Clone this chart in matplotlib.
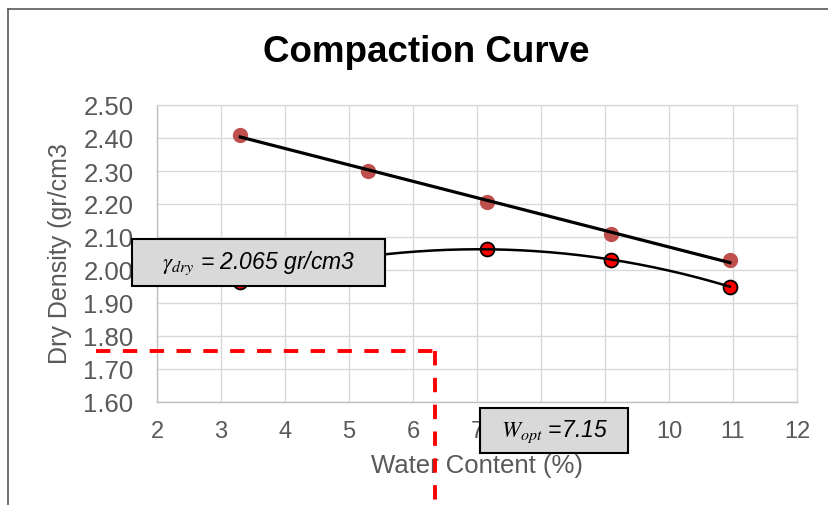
#!/usr/bin/env python3
"""Compaction curve: dry density vs water content with trendlines."""

import numpy as np
import matplotlib
matplotlib.use("Agg")
import matplotlib.pyplot as plt
from matplotlib.lines import Line2D
from matplotlib.patches import Rectangle

# Data
water_zav = [3.3, 5.3, 7.15, 9.1, 10.95]
density_zav = [2.41, 2.30, 2.205, 2.11, 2.03]
water_dry = [3.3, 5.3, 7.15, 9.1, 10.95]
density_dry = [1.965, 2.04, 2.065, 2.03, 1.95]

x_ticks = [2, 3, 4, 5, 6, 7, 8, 9, 10, 11, 12]
y_ticks = [1.60, 1.70, 1.80, 1.90, 2.00, 2.10, 2.20, 2.30, 2.40, 2.50]

# Hand-drawn red guide lines
GUIDE_Y = 1.755
GUIDE_X = 6.34
GUIDE_X_START = 1.05
GUIDE_Y_END = 1.28

GAMMA_TEXT = r"$\gamma_{dry}$ = 2.065 gr/cm3"
WOPT_TEXT = r"$W_{opt}$ =7.15"

# Style
W, H = 829, 506
FONT = "Liberation Sans"
TEXT_GRAY = "#595959"
GRID_COLOR = "#D9D9D9"
ZAV_COLOR = "#C0504D"
DRY_COLOR = "#FF0000"

plt.rcParams["font.family"] = [FONT, "DejaVu Sans"]
plt.rcParams["mathtext.fontset"] = "stix"

fig = plt.figure(figsize=(W / 100, H / 100), dpi=100)
ax = fig.add_axes([157 / W, 1 - 403 / H, 640 / W, 297 / H])

# Scatter points
ax.plot(water_zav, density_zav, "o", color=ZAV_COLOR, markersize=11,
        markeredgewidth=0, zorder=3)
ax.plot(water_dry, density_dry, "o", color=DRY_COLOR, markersize=10,
        markeredgecolor="black", markeredgewidth=1.3, zorder=4)

# Trendlines
xs = np.linspace(min(water_zav), max(water_zav), 50)
lin = np.polyfit(water_zav, density_zav, 1)
ax.plot(xs, np.polyval(lin, xs), color="black", lw=2.3, zorder=5)

xs2 = np.linspace(min(water_dry), max(water_dry), 200)
poly = np.polyfit(water_dry, density_dry, 3)
ax.plot(xs2, np.polyval(poly, xs2), color="black", lw=1.8, zorder=5)

# Red dashed guide lines (run outside the plot area)
ax.plot([GUIDE_X_START, GUIDE_X], [GUIDE_Y, GUIDE_Y], color="red", lw=2.8,
        dashes=(3.7, 3.2), clip_on=False, zorder=6)
ax.plot([GUIDE_X, GUIDE_X], [GUIDE_Y, GUIDE_Y_END], color="red", lw=2.8,
        dashes=(3.7, 3.2), clip_on=False, zorder=6)

ax.set_xlim(2, 12)
ax.set_ylim(1.6, 2.5)
ax.set_xticks(x_ticks)
ax.set_yticks(y_ticks)
ax.set_yticklabels([f"{v:.2f}" for v in y_ticks])
ax.tick_params(length=0, labelcolor=TEXT_GRAY)
ax.tick_params(axis="y", pad=17, labelsize=18.5)
ax.tick_params(axis="x", pad=13, labelsize=17)
ax.grid(True, color=GRID_COLOR, lw=1.0)
ax.set_axisbelow(True)
for side, spine in ax.spines.items():
    spine.set_color("#BFBFBF" if side in ("left", "bottom") else GRID_COLOR)
    spine.set_linewidth(1.0)

# Titles and axis labels
fig.text(426 / W, 1 - 52 / H, "Compaction Curve", ha="center", va="center",
         fontsize=26.5, fontweight="bold", color="black")
fig.text(477 / W, 1 - 466 / H, "Water Content (%)", ha="center", va="center",
         fontsize=18.5, color=TEXT_GRAY, zorder=-1)
fig.text(60 / W, 1 - 254 / H, "Dry Density (gr/cm3", ha="center", va="center",
         fontsize=18, color=TEXT_GRAY, rotation=90)

# Annotation boxes
def label_box(x0, y0, x1, y1, text, size):
    fig.add_artist(Rectangle((x0 / W, 1 - y1 / H), (x1 - x0) / W, (y1 - y0) / H,
                             transform=fig.transFigure, facecolor="#D9D9D9",
                             edgecolor="black", lw=1.5, zorder=10))
    fig.text((x0 + x1) / 2 / W, 1 - (y0 + y1) / 2 / H, text, ha="center",
             va="center", fontsize=size, style="italic", color="black",
             zorder=11)

label_box(132, 240, 385, 287, GAMMA_TEXT, 16.5)
label_box(480, 409, 628, 454, WOPT_TEXT, 16.5)

# Chart border (left and top only visible)
fig.add_artist(Line2D([8.5 / W, 8.5 / W], [0, 1 - 10 / H], color=TEXT_GRAY,
                      lw=1.2, transform=fig.transFigure))
fig.add_artist(Line2D([8.5 / W, 1], [1 - 10 / H, 1 - 10 / H], color=TEXT_GRAY,
                      lw=1.2, transform=fig.transFigure))

fig.savefig("out.png", dpi=100)
